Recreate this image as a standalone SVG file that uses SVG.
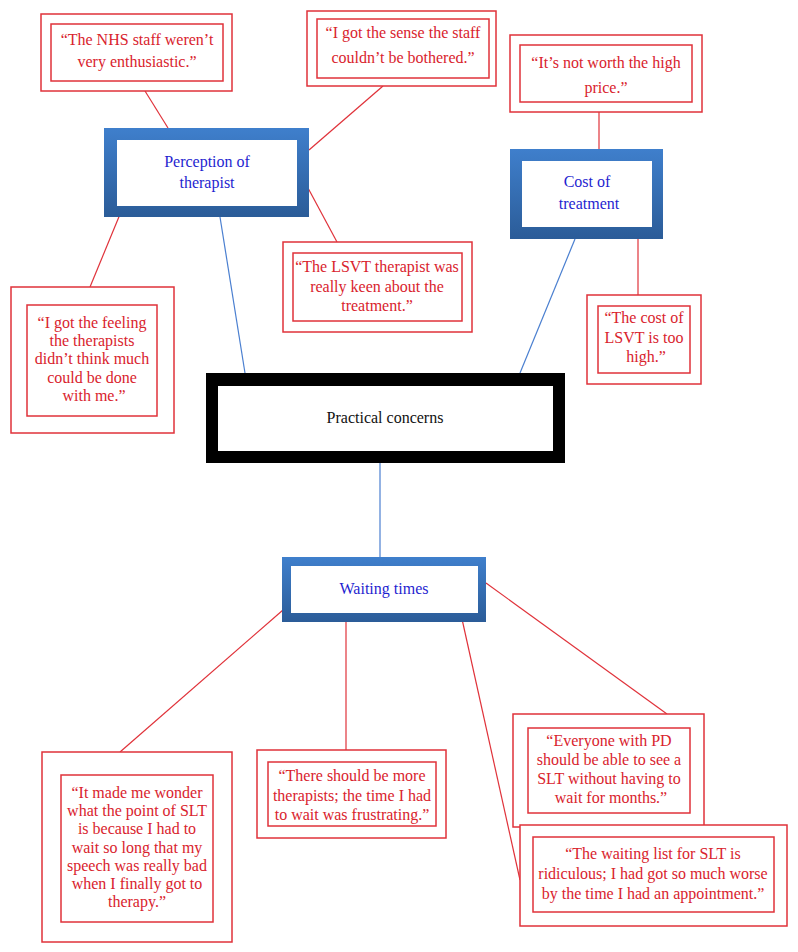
<svg xmlns="http://www.w3.org/2000/svg" width="798" height="952" viewBox="0 0 798 952">
<defs>
<linearGradient id="blueG" x1="0" y1="0" x2="0" y2="1">
<stop offset="0" stop-color="#3f7fcc"/>
<stop offset="1" stop-color="#2b5c98"/>
</linearGradient>
<style>
.q{fill:#fff;stroke:#e0323a;stroke-width:1.5}
.qt{font-family:"Liberation Serif",serif;font-size:16px;fill:#d9232d;text-anchor:middle}
.bt{font-family:"Liberation Serif",serif;font-size:16px;fill:#1f1fd0;text-anchor:middle}
.kt{font-family:"Liberation Serif",serif;font-size:16px;fill:#111;text-anchor:middle}
.rl{stroke:#e0323a;stroke-width:1.2;fill:none}
.bl{stroke:#4a7fd0;stroke-width:1.2;fill:none}
</style>
</defs>
<rect width="798" height="952" fill="#fff"/>
<g id="connectors">
<line class="rl" x1="145" y1="91" x2="168" y2="128"/>
<line class="rl" x1="383" y1="86" x2="309" y2="150"/>
<line class="rl" x1="599" y1="112" x2="599" y2="149"/>
<line class="rl" x1="308" y1="188" x2="337" y2="242"/>
<line class="rl" x1="638" y1="239" x2="638" y2="295"/>
<line class="rl" x1="90" y1="287" x2="130" y2="190"/>
<line class="bl" x1="220" y1="217" x2="245" y2="373"/>
<line class="bl" x1="575" y1="239" x2="520" y2="373"/>
<line class="bl" x1="380" y1="463" x2="380" y2="557"/>
<line class="rl" x1="283" y1="610" x2="120" y2="752"/>
<line class="rl" x1="346" y1="612" x2="346" y2="750"/>
<line class="rl" x1="460" y1="610" x2="520" y2="880"/>
<line class="rl" x1="486" y1="583" x2="667" y2="714"/>
</g>
<g id="q-nhs">
<rect class="q" x="41" y="14" width="191" height="77"/>
<rect class="q" x="51" y="24" width="172" height="57"/>
<text class="qt" x="137" y="45">“The NHS staff weren’t</text>
<text class="qt" x="137" y="67">very enthusiastic.”</text>
</g>
<g id="q-sense">
<rect class="q" x="307" y="11" width="189" height="75"/>
<rect class="q" x="317" y="19" width="172" height="59"/>
<text class="qt" x="403" y="38">“I got the sense the staff</text>
<text class="qt" x="403" y="63">couldn’t be bothered.”</text>
</g>
<g id="q-worth">
<rect class="q" x="510" y="35" width="192" height="77"/>
<rect class="q" x="520" y="45" width="172" height="57"/>
<text class="qt" x="606" y="68">“It’s not worth the high</text>
<text class="qt" x="606" y="93">price.”</text>
</g>
<g id="perception">
<rect x="104" y="128" width="205" height="89" fill="url(#blueG)"/>
<rect x="117" y="140" width="180" height="66" fill="#fff"/>
<text class="bt" x="207" y="167">Perception of</text>
<text class="bt" x="207" y="188">therapist</text>
</g>
<g id="cost">
<rect x="510" y="149" width="153" height="90" fill="url(#blueG)"/>
<rect x="522" y="161" width="130" height="66" fill="#fff"/>
<text class="bt" x="587" y="187">Cost of</text>
<text class="bt" x="589" y="209">treatment</text>
</g>
<g id="q-lsvt">
<rect class="q" x="283" y="242" width="189" height="90"/>
<rect class="q" x="293" y="253" width="169" height="68"/>
<text class="qt" x="377" y="272">“The LSVT therapist was</text>
<text class="qt" x="377" y="292">really keen about the</text>
<text class="qt" x="377" y="311">treatment.”</text>
</g>
<g id="q-costlsvt">
<rect class="q" x="587" y="295" width="114" height="89"/>
<rect class="q" x="598" y="306" width="92" height="67"/>
<text class="qt" x="644" y="323">“The cost of</text>
<text class="qt" x="644" y="343">LSVT is too</text>
<text class="qt" x="646" y="362">high.”</text>
</g>
<g id="q-feeling">
<rect class="q" x="11" y="287" width="163" height="146"/>
<rect class="q" x="27" y="305" width="130" height="111"/>
<text class="qt" x="92" y="328">“I got the feeling</text>
<text class="qt" x="92" y="346">the therapists</text>
<text class="qt" x="92" y="364">didn’t think much</text>
<text class="qt" x="92" y="383">could be done</text>
<text class="qt" x="94" y="401">with me.”</text>
</g>
<g id="practical">
<rect x="206" y="373" width="359" height="90" fill="#000"/>
<rect x="218" y="386" width="335" height="65" fill="#fff"/>
<text class="kt" x="385" y="423">Practical concerns</text>
</g>
<g id="waiting">
<rect x="282" y="557" width="204" height="65" fill="url(#blueG)"/>
<rect x="291" y="566" width="187" height="47" fill="#fff"/>
<text class="bt" x="384" y="594">Waiting times</text>
</g>
<g id="q-wonder">
<rect class="q" x="42" y="752" width="190" height="190"/>
<rect class="q" x="61" y="775" width="152" height="147"/>
<text class="qt" x="137" y="798">“It made me wonder</text>
<text class="qt" x="137" y="816">what the point of SLT</text>
<text class="qt" x="137" y="834">is because I had to</text>
<text class="qt" x="137" y="853">wait so long that my</text>
<text class="qt" x="137" y="871">speech was really bad</text>
<text class="qt" x="137" y="889">when I finally got to</text>
<text class="qt" x="137" y="907">therapy.”</text>
</g>
<g id="q-more">
<rect class="q" x="257" y="750" width="189" height="88"/>
<rect class="q" x="268" y="762" width="168" height="64"/>
<text class="qt" x="352" y="781">“There should be more</text>
<text class="qt" x="352" y="801">therapists; the time I had</text>
<text class="qt" x="352" y="820">to wait was frustrating.”</text>
</g>
<g id="q-everyone">
<rect class="q" x="513" y="714" width="191" height="113"/>
<rect class="q" x="528" y="728" width="162" height="85"/>
<text class="qt" x="609" y="746">“Everyone with PD</text>
<text class="qt" x="609" y="765">should be able to see a</text>
<text class="qt" x="609" y="784">SLT without having to</text>
<text class="qt" x="611" y="803">wait for months.”</text>
</g>
<g id="q-list">
<rect class="q" x="520" y="825" width="267" height="101"/>
<rect class="q" x="533" y="837" width="241" height="75"/>
<text class="qt" x="653" y="859">“The waiting list for SLT is</text>
<text class="qt" x="653" y="879">ridiculous; I had got so much worse</text>
<text class="qt" x="653" y="899">by the time I had an appointment.”</text>
</g>
</svg>
